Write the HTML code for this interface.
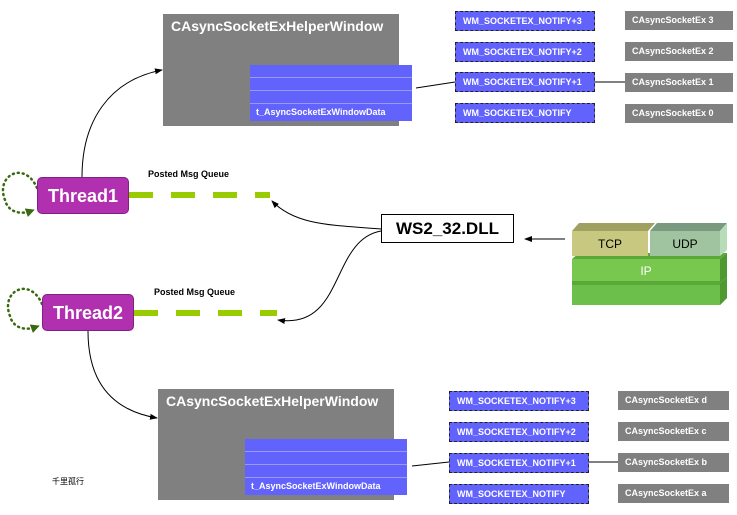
<!DOCTYPE html>
<html><head><meta charset="utf-8"><style>
body{margin:0;width:737px;height:515px;background:#fff;position:relative;overflow:hidden;font-family:"Liberation Sans",Arial,sans-serif}
.a{position:absolute;box-sizing:border-box}
.gray{background:#808080;color:#fff;font-weight:bold;font-size:14px;padding:4px 8px}
.blue{background:#6262fc}
.row{height:12px;border-bottom:1px solid #9a9af0}
.dl{color:#fff;font-size:9px;font-weight:bold;padding:3px 6px}
.nt{background:#6262fc;border:1px dashed #222;color:#fff;font-size:9px;font-weight:bold;line-height:18px;padding-left:7px;height:20px}
.cs{background:#808080;color:#fff;font-size:9px;font-weight:bold;line-height:19px;padding-left:7px;height:19px}
.th{background:#b030b0;color:#fff;font-weight:bold;font-size:18px;border-radius:5px;text-align:center;line-height:37px;border:1px solid #802080}
.pm{font-size:9px;font-weight:bold;color:#000}
</style></head><body>
<svg class="a" style="left:0;top:0" width="737" height="515">
<defs><marker id="ar" markerWidth="8" markerHeight="8" refX="7" refY="4" orient="auto"><path d="M0,1 L8,4 L0,7z" fill="#000"/></marker>
<marker id="ag" markerUnits="userSpaceOnUse" markerWidth="9" markerHeight="9" refX="5" refY="4.5" orient="auto"><path d="M0,0 L9,4.5 L0,9z" fill="#3a6a10"/></marker></defs>
<path d="M82,177 C82,120 110,80 162,70" fill="none" stroke="#000" marker-end="url(#ar)"/>
<path d="M88,331 C88,380 110,410 157,418" fill="none" stroke="#000" marker-end="url(#ar)"/>
<path d="M381,229 C330,225 295,225 272,201" fill="none" stroke="#000" marker-end="url(#ar)"/>
<path d="M381,231 C330,240 345,330 278,320" fill="none" stroke="#000" marker-end="url(#ar)"/>
<line x1="565" y1="239" x2="525" y2="239" stroke="#000" marker-end="url(#ar)"/>
<line x1="416" y1="88" x2="455" y2="82" stroke="#000"/>
<line x1="595" y1="82" x2="625" y2="82" stroke="#000"/>
<line x1="412" y1="466" x2="449" y2="462" stroke="#000"/>
<line x1="589" y1="462" x2="618" y2="462" stroke="#000"/>
<line x1="129" y1="195" x2="270" y2="195" stroke="#99cc00" stroke-width="6" stroke-dasharray="24,18"/>
<line x1="134" y1="313" x2="277" y2="313" stroke="#99cc00" stroke-width="6" stroke-dasharray="24,18"/>
<path d="M37,188 C25,160 -5,175 5,200 C8,212 20,215 31,211" fill="none" stroke="#3a6a10" stroke-width="2.5" stroke-dasharray="1,4" stroke-linecap="round" marker-end="url(#ag)"/>
<path d="M42,304 C30,276 0,291 10,316 C13,328 25,331 36,327" fill="none" stroke="#3a6a10" stroke-width="2.5" stroke-dasharray="1,4" stroke-linecap="round" marker-end="url(#ag)"/>
<!-- stack -->
<polygon points="572,305 720,305 727,298 727,283 572,283" fill="#6cbf4a"/>
<polygon points="720,283 727,277 727,298 720,305" fill="#4e9a30"/>
<rect x="572" y="259" width="148" height="25" fill="#78c850"/>
<rect x="572" y="281" width="148" height="4" fill="#5aa838"/>
<polygon points="720,259 727,253 727,277 720,283" fill="#4e9a30"/>
<polygon points="572,259 579,253 727,253 720,259" fill="#5aa838"/>
<polygon points="572,231 579,223 655,223 648,231" fill="#a0a060"/>
<rect x="572" y="231" width="76" height="25" fill="#c8c880"/>
<polygon points="650,231 657,223 727,223 720,231" fill="#7a9a80"/>
<rect x="650" y="231" width="70" height="25" fill="#9fc49f"/>
<polygon points="720,231 727,223 727,250 720,256" fill="#b8dcb8"/>
</svg>
<div class="a" style="left:572px;top:237px;width:76px;text-align:center;font-size:12px">TCP</div>
<div class="a" style="left:650px;top:237px;width:70px;text-align:center;font-size:12px">UDP</div>
<div class="a" style="left:572px;top:264px;width:148px;text-align:center;font-size:12px;color:#fff">IP</div>

<div class="a gray" style="left:163px;top:14px;width:236px;height:112px">CAsyncSocketExHelperWindow</div>
<div class="a blue" style="left:250px;top:65px;width:162px;height:56px"><div class="row"></div><div class="row"></div><div class="row"></div><div class="dl">t_AsyncSocketExWindowData</div></div>
<div class="a gray" style="left:158px;top:389px;width:236px;height:111px">CAsyncSocketExHelperWindow</div>
<div class="a blue" style="left:245px;top:439px;width:162px;height:56px"><div class="row"></div><div class="row"></div><div class="row"></div><div class="dl">t_AsyncSocketExWindowData</div></div>

<div class="a nt" style="left:455px;top:11px;width:140px">WM_SOCKETEX_NOTIFY+3</div>
<div class="a nt" style="left:455px;top:42px;width:140px">WM_SOCKETEX_NOTIFY+2</div>
<div class="a nt" style="left:455px;top:72px;width:140px">WM_SOCKETEX_NOTIFY+1</div>
<div class="a nt" style="left:455px;top:103px;width:140px">WM_SOCKETEX_NOTIFY</div>
<div class="a cs" style="left:625px;top:11px;width:108px">CAsyncSocketEx 3</div>
<div class="a cs" style="left:625px;top:42px;width:108px">CAsyncSocketEx 2</div>
<div class="a cs" style="left:625px;top:73px;width:108px">CAsyncSocketEx 1</div>
<div class="a cs" style="left:625px;top:104px;width:108px">CAsyncSocketEx 0</div>

<div class="a nt" style="left:449px;top:391px;width:140px">WM_SOCKETEX_NOTIFY+3</div>
<div class="a nt" style="left:449px;top:422px;width:140px">WM_SOCKETEX_NOTIFY+2</div>
<div class="a nt" style="left:449px;top:453px;width:140px">WM_SOCKETEX_NOTIFY+1</div>
<div class="a nt" style="left:449px;top:484px;width:140px">WM_SOCKETEX_NOTIFY</div>
<div class="a cs" style="left:618px;top:391px;width:111px">CAsyncSocketEx d</div>
<div class="a cs" style="left:618px;top:422px;width:111px">CAsyncSocketEx c</div>
<div class="a cs" style="left:618px;top:453px;width:111px">CAsyncSocketEx b</div>
<div class="a cs" style="left:618px;top:484px;width:111px">CAsyncSocketEx a</div>

<div class="a th" style="left:37px;top:177px;width:92px;height:37px">Thread1</div>
<div class="a th" style="left:42px;top:294px;width:92px;height:37px">Thread2</div>
<div class="a pm" style="left:148px;top:169px">Posted Msg Queue</div>
<div class="a pm" style="left:154px;top:287px">Posted Msg Queue</div>
<div class="a" style="left:381px;top:214px;width:133px;height:29px;border:1px solid #000;background:#fff;font-weight:bold;font-size:17px;text-align:center;line-height:27px">WS2_32.DLL</div>
<div class="a" style="left:52px;top:476px;font-size:8px;font-family:'Noto Sans CJK SC',sans-serif">千里孤行</div>
</body></html>
